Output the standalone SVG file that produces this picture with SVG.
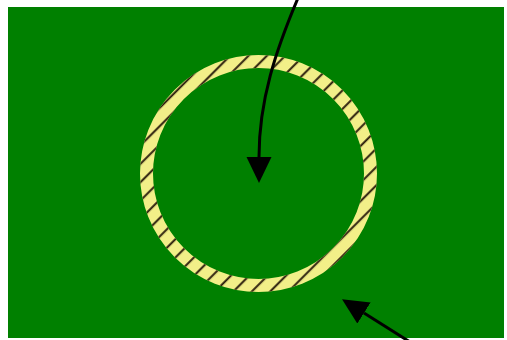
<svg xmlns="http://www.w3.org/2000/svg" width="507" height="340" viewBox="0 0 507 340">
  <style>
    .conn { fill: none; stroke: #000; stroke-width: 3; }
  </style>
  <defs>
    <pattern id="hatch" patternUnits="userSpaceOnUse" width="13" height="13" patternTransform="rotate(-45)">
      <line x1="0" y1="7.2" x2="13" y2="7.2" stroke="#2a1e0c" stroke-width="2"/>
    </pattern>
    <marker id="head" markerUnits="userSpaceOnUse" markerWidth="27" markerHeight="26" refX="0" refY="12.5" orient="auto">
      <path d="M0,0 L26,12.5 L0,25 Z" fill="#000"/>
    </marker>
  </defs>
  <rect width="507" height="340" fill="#fff"/>
  <g id="field">
    <rect x="8" y="7" width="496" height="331" fill="#008000"/>
  </g>
  <g id="ring">
    <circle cx="258.5" cy="173.5" r="112" fill="none" stroke="#f2ef88" stroke-width="13"/>
    <circle cx="258.5" cy="173.5" r="112" fill="none" stroke="url(#hatch)" stroke-width="13"/>
  </g>
  <g id="connectors">
    <path class="conn" d="M298,-2 C276,50 259,100 259,157" marker-end="url(#head)"/>
    <path class="conn" d="M410,342 L364,313" marker-end="url(#head)"/>
  </g>
</svg>
